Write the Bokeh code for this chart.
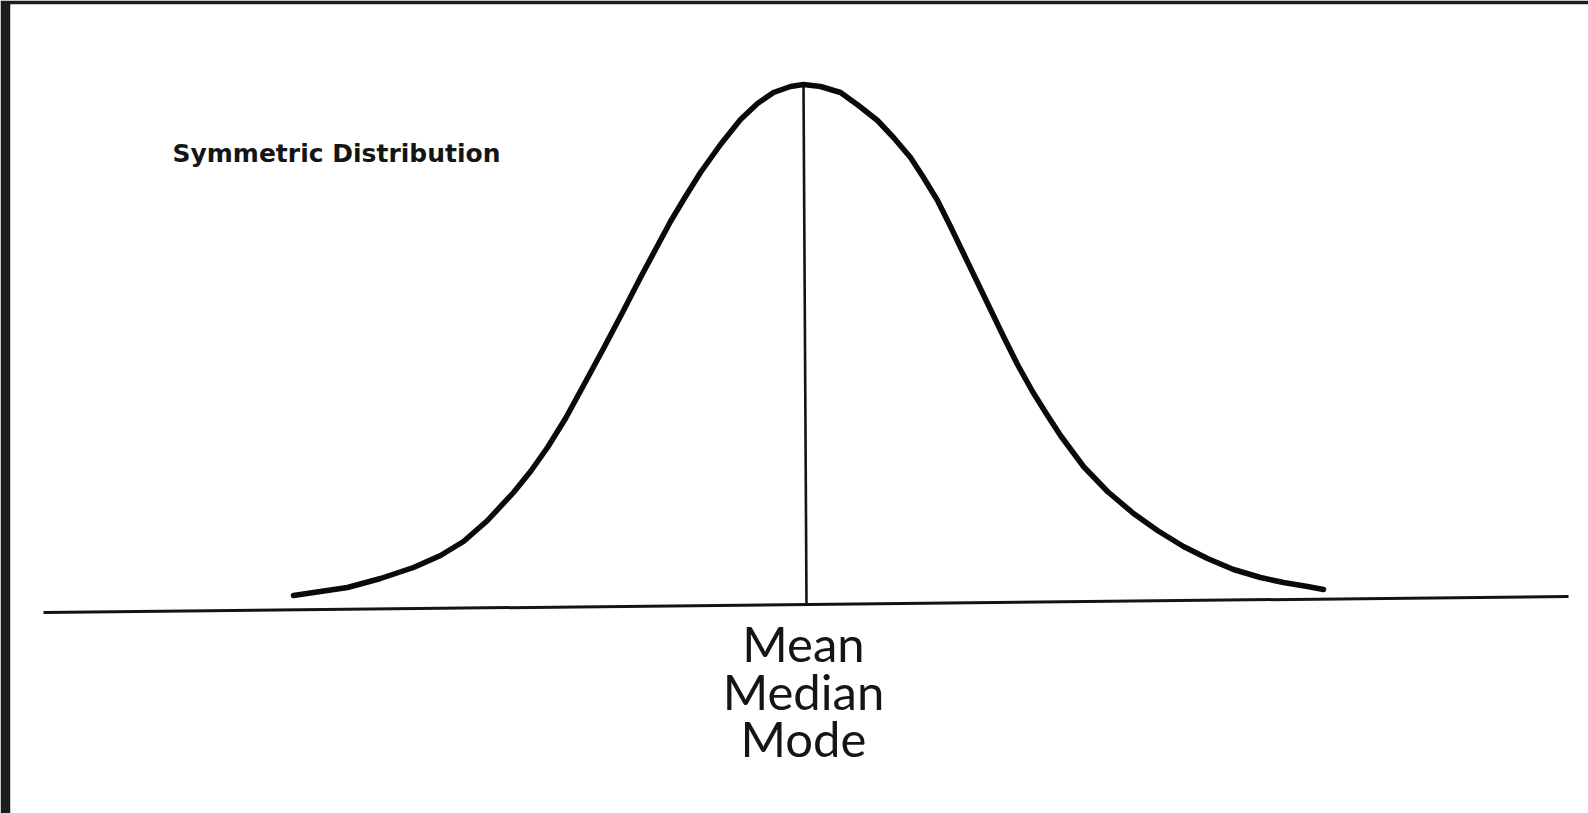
from bokeh.plotting import figure
from bokeh.models import Range1d, ColumnDataSource
from bokeh.core.properties import value
from bokeh.embed import file_html
from bokeh.resources import INLINE

PAGE_H = 813

# Curve: horizontal position and page row of the stroke
curve_x = [293, 320, 347, 380, 413, 440, 463, 487, 513, 530, 547, 565, 583, 603, 622,
           640, 655, 670, 685, 700, 720, 740, 757, 773, 790, 803, 820, 840, 858, 877,
           893, 910, 923, 937, 950, 963, 977, 990, 1003, 1017, 1032, 1047, 1060, 1083,
           1107, 1133, 1157, 1183, 1207, 1233, 1260, 1283, 1307, 1323]
curve_row = [595, 591, 587, 578, 567, 555, 541, 520, 492, 471, 447, 418, 385, 348, 312,
             277, 249, 221, 196, 172, 144, 119, 103, 92, 86, 84, 86, 92, 105, 120,
             137, 157, 177, 200, 226, 253, 282, 309, 336, 364, 391, 415, 435, 466,
             491, 513, 530, 546, 558, 569, 577, 582, 586, 589]
curve_y = [PAGE_H - r for r in curve_row]

# Baseline of the sketch and the centre line
base_x = [43, 1568]
base_y = [PAGE_H - 612, PAGE_H - 596]
center_x = [803, 806]
center_y = [PAGE_H - 84, PAGE_H - 605]

center_labels = ["Mean", "Median", "Mode"]
label_y = [171, 123, 76]
title_text = "Symmetric Distribution"

p = figure(width=1588, height=813, output_backend="svg", toolbar_location=None,
           x_range=Range1d(10, 1588), y_range=Range1d(0, 809),
           x_axis_location=None, y_axis_location=None,
           min_border_left=10, min_border_top=4, min_border_right=0, min_border_bottom=0)
p.xgrid.visible = False
p.ygrid.visible = False
p.outline_line_color = None
p.background_fill_color = "white"
p.border_fill_color = "#1c1c1c"

p.line(base_x, base_y, line_color="#141414", line_width=3)
p.line(center_x, center_y, line_color="#141414", line_width=2.6)
p.line(curve_x, curve_y, line_color="#0a0a0a", line_width=5.5,
       line_join="round", line_cap="round")

src = ColumnDataSource(dict(x=[803, 803, 803], y=label_y, t=center_labels))
p.text(x="x", y="y", text="t", source=src, text_align="center",
       text_baseline="alphabetic", text_font=value("Lato"),
       text_font_size="49px", text_color="#151515")

p.text(x=[172], y=[660], text=[title_text], text_align="left",
       text_baseline="alphabetic", text_font=value("DejaVu Sans"),
       text_font_style="bold", text_font_size="25px", text_color="#151515")

open("out.html", "w").write(file_html(p, INLINE))
